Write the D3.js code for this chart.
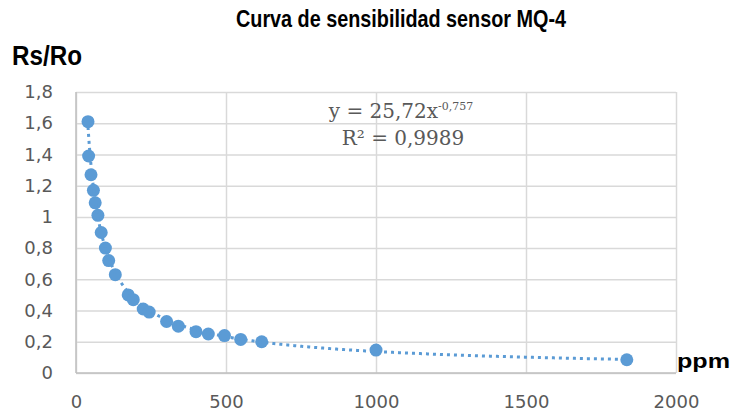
<!DOCTYPE html>
<html>
<head>
<meta charset="utf-8">
<script src="https://cdn.jsdelivr.net/npm/d3@7"></script>
<style>
  body { margin: 0; background: #fff; }
  svg { display: block; }
</style>
</head>
<body>
<svg id="chart"></svg>
<script>
// measured points (ppm vs Rs/Ro)
const ppm = [40, 42, 50, 58, 64, 73, 84, 98, 109, 131, 174, 191, 224, 244, 302, 341, 400, 441, 495, 549, 619, 1000, 1836];
const rsRo = [1.61, 1.39, 1.27, 1.17, 1.09, 1.01, 0.90, 0.80, 0.72, 0.63, 0.50, 0.47, 0.41, 0.39, 0.33, 0.30, 0.265, 0.25, 0.24, 0.215, 0.20, 0.147, 0.085];

// power trendline shown on the chart
const trendA = 25.72;
const trendB = -0.757;
const r2 = "0,9989";

const xTicks = [0, 500, 1000, 1500, 2000];
const yTicks = [0, 0.2, 0.4, 0.6, 0.8, 1, 1.2, 1.4, 1.6, 1.8];

const width = 732;
const height = 416;
const margin = { top: 92, right: 56, bottom: 43, left: 76 };

const blue = "#5b9bd5";
const grid = "#d9d9d9";
const labelGray = "#595959";

const svg = d3.select("#chart")
  .attr("width", width)
  .attr("height", height)
  .attr("viewBox", [0, 0, width, height]);

const x = d3.scaleLinear().domain([0, 2000]).range([margin.left, width - margin.right]);
const y = d3.scaleLinear().domain([0, 1.8]).range([height - margin.bottom, margin.top]);

const fmt = d => String(d).replace(".", ",");

// gridlines
svg.append("g")
  .attr("transform", `translate(0,${height - margin.bottom})`)
  .call(d3.axisBottom(x).tickValues(xTicks).tickSize(-(height - margin.top - margin.bottom)).tickFormat(""))
  .call(g => g.select(".domain").remove())
  .call(g => g.selectAll("line").attr("stroke", grid).attr("stroke-width", 1.5));

svg.append("g")
  .attr("transform", `translate(${margin.left},0)`)
  .call(d3.axisLeft(y).tickValues(yTicks).tickSize(-(width - margin.left - margin.right)).tickFormat(""))
  .call(g => g.select(".domain").remove())
  .call(g => g.selectAll("line").attr("stroke", grid).attr("stroke-width", 1.5));

// axis lines
svg.append("line")
  .attr("x1", x(0)).attr("x2", x(0))
  .attr("y1", y(0)).attr("y2", y(1.8))
  .attr("stroke", "#bfbfbf").attr("stroke-width", 1.5);
svg.append("line")
  .attr("x1", x(0)).attr("x2", x(2000))
  .attr("y1", y(0)).attr("y2", y(0))
  .attr("stroke", "#bfbfbf").attr("stroke-width", 1.5);

// tick labels
svg.append("g")
  .attr("transform", `translate(0,${height - margin.bottom})`)
  .call(d3.axisBottom(x).tickValues(xTicks).tickSize(0).tickPadding(22).tickFormat(fmt))
  .call(g => g.select(".domain").remove())
  .call(g => g.selectAll("text")
    .attr("fill", labelGray)
    .style("font-family", "DejaVu Sans")
    .style("font-size", "18px"));

svg.append("g")
  .attr("transform", `translate(${margin.left},0)`)
  .call(d3.axisLeft(y).tickValues(yTicks).tickSize(0).tickPadding(23).tickFormat(fmt))
  .call(g => g.select(".domain").remove())
  .call(g => g.selectAll("text")
    .attr("fill", labelGray)
    .style("font-family", "DejaVu Sans")
    .style("font-size", "18px"));

// markers
svg.append("g")
  .selectAll("circle")
  .data(ppm.map((p, i) => [p, rsRo[i]]))
  .join("circle")
  .attr("cx", d => x(d[0]))
  .attr("cy", d => y(d[1]))
  .attr("r", 6.5)
  .attr("fill", blue);

// dotted power trendline
const trendX = d3.range(d3.min(ppm), d3.max(ppm), 4).concat([d3.max(ppm)]);
svg.append("path")
  .datum(trendX)
  .attr("fill", "none")
  .attr("stroke", blue)
  .attr("stroke-width", 3)
  .attr("stroke-dasharray", "3,4")
  .attr("d", d3.line().x(d => x(d)).y(d => y(trendA * Math.pow(d, trendB))));

// trendline equation
const eq = svg.append("text")
  .attr("x", 401)
  .attr("y", 118)
  .attr("text-anchor", "middle")
  .attr("fill", labelGray)
  .style("font-family", "DejaVu Serif")
  .style("font-size", "20px");
eq.append("tspan").text(`y = ${fmt(trendA)}x`);
eq.append("tspan")
  .attr("dy", -8)
  .style("font-size", "11px")
  .text(fmt(trendB));

svg.append("text")
  .attr("x", 403)
  .attr("y", 145)
  .attr("text-anchor", "middle")
  .attr("fill", labelGray)
  .style("font-family", "DejaVu Serif")
  .style("font-size", "20px")
  .text(`R² = ${r2}`);

// titles
svg.append("text")
  .attr("x", 236)
  .attr("y", 27)
  .attr("textLength", 330)
  .attr("lengthAdjust", "spacingAndGlyphs")
  .style("font-family", "Liberation Sans")
  .style("font-weight", "bold")
  .style("font-size", "24px")
  .text("Curva de sensibilidad sensor MQ-4");

svg.append("text")
  .attr("x", 12)
  .attr("y", 65)
  .attr("textLength", 70)
  .attr("lengthAdjust", "spacingAndGlyphs")
  .style("font-family", "Liberation Sans")
  .style("font-weight", "bold")
  .style("font-size", "27px")
  .text("Rs/Ro");

svg.append("text")
  .attr("x", 677)
  .attr("y", 368)
  .attr("textLength", 53)
  .attr("lengthAdjust", "spacingAndGlyphs")
  .style("font-family", "Liberation Sans")
  .style("font-weight", "bold")
  .style("font-size", "21px")
  .text("ppm");
</script>
</body>
</html>
